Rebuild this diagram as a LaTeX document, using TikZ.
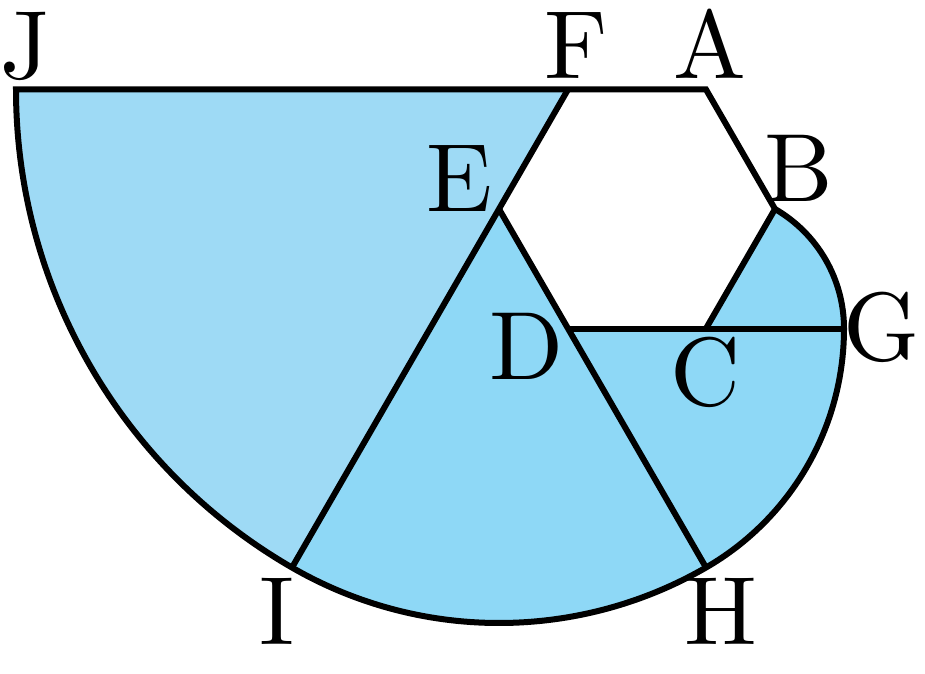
\documentclass[tikz,border=0pt]{standalone}
\usepackage{fontspec}
\setmainfont{lmroman10-regular.otf}
\usetikzlibrary{calc}
\definecolor{lightfill}{RGB}{158,218,245}
\definecolor{darkfill}{RGB}{142,216,246}
\begin{document}
\begin{tikzpicture}[x=1pt,y=1pt,
  edge/.style={line width=6pt,line join=miter,line cap=butt},
  lbl/.style={anchor=base,inner sep=0pt,font=\fontsize{97}{97}\selectfont}]
\useasboundingbox (0,0) rectangle (925,673);
\coordinate (F) at (568,583.5);
\coordinate (A) at (706,583.5);
\coordinate (B) at (775,464);
\coordinate (C) at (706,344.5);
\coordinate (D) at (568,344.5);
\coordinate (E) at (499,464);
\coordinate (G) at ($(D)+(276,0)$);
% fills
\fill[lightfill] (F) -- ($(F)+(-120:552)$) arc[start angle=-120,end angle=-180,radius=552] -- cycle;
\fill[darkfill] (E) -- ($(E)+(-60:414)$) coordinate (H) arc[start angle=-60,end angle=-120,radius=414] coordinate (I) -- cycle;
\fill[darkfill] (D) -- (G) arc[start angle=0,end angle=-60,radius=276] -- cycle;
\fill[darkfill] (C) -- (B) arc[start angle=60,end angle=0,radius=138] -- cycle;
% outline
\draw[edge] (A) -- (B) arc[start angle=60,end angle=0,radius=138]
  arc[start angle=0,end angle=-60,radius=276]
  arc[start angle=-60,end angle=-120,radius=414]
  arc[start angle=-120,end angle=-180,radius=552] coordinate (J) -- cycle;
\draw[edge] (B) -- (C);
\draw[edge] (D) -- (G);
\draw[edge] (F) -- (I);
\draw[edge] (E) -- (H);
% labels
\node[lbl] (lJ) at (25,594) {J};
\node[lbl] (lF) at (576,594) {F};
\node[lbl] (lA) at (710,594) {A};
\node[lbl] (lB) at (799,471) {B};
\node[lbl] (lE) at (459.5,461) {E};
\node[lbl] (lD) at (527,294) {D};
\node[lbl] (lC) at (706,268) {C};
\node[lbl] (lG) at (882,313) {G};
\node[lbl] (lI) at (277.5,29) {I};
\node[lbl] (lH) at (721,29) {H};
\end{tikzpicture}
\end{document}
